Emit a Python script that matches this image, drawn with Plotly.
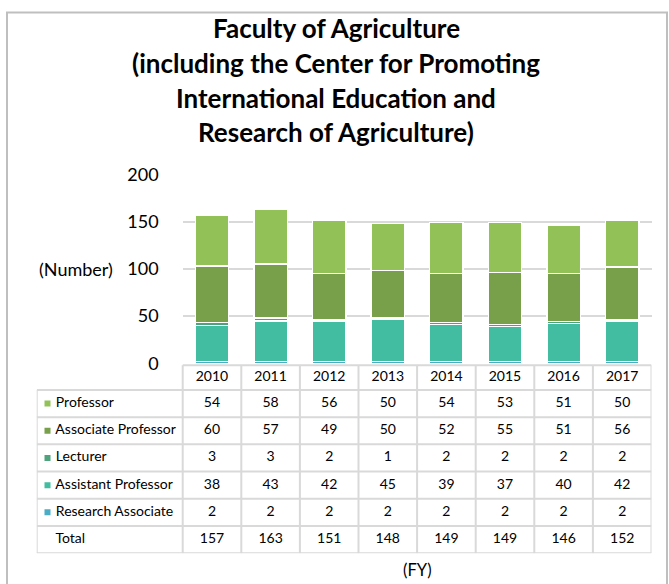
import plotly.graph_objects as go

# ---------------- data ----------------
years = ["2010", "2011", "2012", "2013", "2014", "2015", "2016", "2017"]
professor = [54, 58, 56, 50, 54, 53, 51, 50]
associate_professor = [60, 57, 49, 50, 52, 55, 51, 56]
lecturer = [3, 3, 2, 1, 2, 2, 2, 2]
assistant_professor = [38, 43, 42, 45, 39, 37, 40, 42]
research_associate = [2, 2, 2, 2, 2, 2, 2, 2]
totals = [157, 163, 151, 148, 149, 149, 146, 152]
y_ticks = [0, 50, 100, 150, 200]
title_lines = ["Faculty of Agriculture",
               "(including the Center for Promoting",
               "International Education and",
               "Research of Agriculture)"]

colors = {
    "Professor": "#92C257",
    "Associate Professor": "#78A04A",
    "Lecturer": "#4EA37C",
    "Assistant Professor": "#43BDA1",
    "Research Associate": "#4BACC6",
}

W, H = 669, 584
FONT = "Lato"
GRID = "#D9D9D9"


def px(x):
    return x / W


def py(y):
    # vertical position in the target picture -> paper fraction
    f = (y - 12.3) / 0.958
    f = min(max(f, 0.5), H)
    return 1 - f / H


# layout geometry (pixels in target picture)
plot_left, plot_right = 182.7, 651.5
plot_top, plot_bottom = 174, 362
table_left = 36.7
table_top, table_bottom = 361.5, 551
col_w = (plot_right - plot_left) / len(years)
label_cols = (plot_left - table_left) / col_w

fig = go.Figure()

# stacked bars (bottom to top)
stack = [("Research Associate", research_associate),
         ("Assistant Professor", assistant_professor),
         ("Lecturer", lecturer),
         ("Associate Professor", associate_professor),
         ("Professor", professor)]
for name, vals in stack:
    fig.add_trace(go.Bar(
        x=years, y=vals, name=name,
        marker=dict(color=colors[name], line=dict(color="white", width=1.5)),
        xaxis="x", yaxis="y", showlegend=False,
    ))

# ---------------- table (on its own hidden axes) ----------------
rows = [("Professor", professor),
        ("Associate Professor", associate_professor),
        ("Lecturer", lecturer),
        ("Assistant Professor", assistant_professor),
        ("Research Associate", research_associate),
        ("Total", totals)]
n_rows = len(rows) + 1  # + header row
TXT = dict(family=FONT, size=14, color="#000000")

# header years
fig.add_trace(go.Scatter(
    x=list(range(len(years))), y=[0.55] * len(years), text=years,
    mode="text", textfont=TXT,
    xaxis="x2", yaxis="y2", showlegend=False, hoverinfo="skip",
))
# values
for r, (name, vals) in enumerate(rows, start=1):
    fig.add_trace(go.Scatter(
        x=list(range(len(years))), y=[r + 0.5] * len(years),
        text=[str(v) for v in vals],
        mode="text", textfont=TXT,
        xaxis="x2", yaxis="y2", showlegend=False, hoverinfo="skip",
    ))
# row labels with legend keys
label_x = -0.5 - label_cols + 10.8 / col_w
fig.add_trace(go.Scatter(
    x=[label_x] * len(rows),
    y=[r + 0.5 for r in range(1, len(rows) + 1)],
    text=[" " + name for name, _ in rows],
    mode="markers+text", textposition="middle right",
    marker=dict(symbol="square", size=6,
                color=[colors.get(name, "rgba(0,0,0,0)") for name, _ in rows]),
    textfont=dict(family=FONT, size=14, color="#000000"),
    xaxis="x2", yaxis="y2", showlegend=False, hoverinfo="skip",
))

x_left = -0.5 - label_cols
x_right = len(years) - 0.5
header_top = 0.09
line = dict(color=GRID, width=2)
shapes = []
# header top
shapes.append(dict(type="line", xref="x2", yref="y2", x0=-0.5, x1=x_right,
                   y0=header_top, y1=header_top, line=line))
# horizontal row lines
for r in range(1, n_rows + 1):
    shapes.append(dict(type="line", xref="x2", yref="y2", x0=x_left, x1=x_right,
                       y0=r, y1=r, line=line))
# vertical lines
for c in range(len(years) + 1):
    shapes.append(dict(type="line", xref="x2", yref="y2", x0=c - 0.5, x1=c - 0.5,
                       y0=header_top, y1=n_rows, line=line))
shapes.append(dict(type="line", xref="x2", yref="y2", x0=x_left, x1=x_left,
                   y0=1, y1=n_rows, line=line))
# outer chart border
shapes.append(dict(type="rect", xref="paper", yref="paper",
                   x0=px(7), x1=px(667), y0=-0.05, y1=py(7),
                   line=dict(color="#BFBFBF", width=2)))

annotations = []
title_y = [28.5, 63.5, 98, 132]
for t, yy in zip(title_lines, title_y):
    annotations.append(dict(text="<b>" + t + "</b>", xref="paper", yref="paper",
                            x=px(336), y=py(yy), xanchor="center", yanchor="middle",
                            showarrow=False,
                            font=dict(family=FONT, size=26, color="#000000")))
annotations.append(dict(text="(Number)", xref="paper", yref="paper",
                        x=px(37), y=py(268), xanchor="left", yanchor="middle",
                        showarrow=False,
                        font=dict(family=FONT, size=18, color="#000000")))
annotations.append(dict(text="(FY)", xref="paper", yref="paper",
                        x=px(417), y=py(568), xanchor="center", yanchor="middle",
                        showarrow=False,
                        font=dict(family=FONT, size=16.5, color="#000000")))

fig.update_layout(
    width=W, height=H,
    margin=dict(l=0, r=0, t=0, b=0),
    paper_bgcolor="white", plot_bgcolor="rgba(0,0,0,0)",
    barmode="stack", bargap=0.43,
    font=dict(family=FONT, color="#000000"),
    xaxis=dict(domain=[px(plot_left), px(plot_right)], type="category",
               showticklabels=False, showgrid=False, zeroline=False,
               showline=False, ticks="", anchor="y"),
    yaxis=dict(domain=[py(plot_bottom), py(plot_top)], range=[0, 200],
               tickvals=y_ticks, showgrid=True, gridcolor=GRID, gridwidth=2,
               zeroline=False, showline=False, ticks="",
               tickfont=dict(family=FONT, size=18, color="#000000"),
               ticklabelstandoff=23, anchor="x"),
    xaxis2=dict(domain=[px(table_left), px(plot_right)],
                range=[x_left, x_right], visible=False, anchor="y2"),
    yaxis2=dict(domain=[py(table_bottom), py(table_top)],
                range=[n_rows, 0], visible=False, anchor="x2"),
    shapes=shapes,
    annotations=annotations,
)

fig.write_html(
    "out.html",
    config={"displayModeBar": False},
    post_script="document.body.style.margin='0';document.body.style.overflow='hidden';",
)
